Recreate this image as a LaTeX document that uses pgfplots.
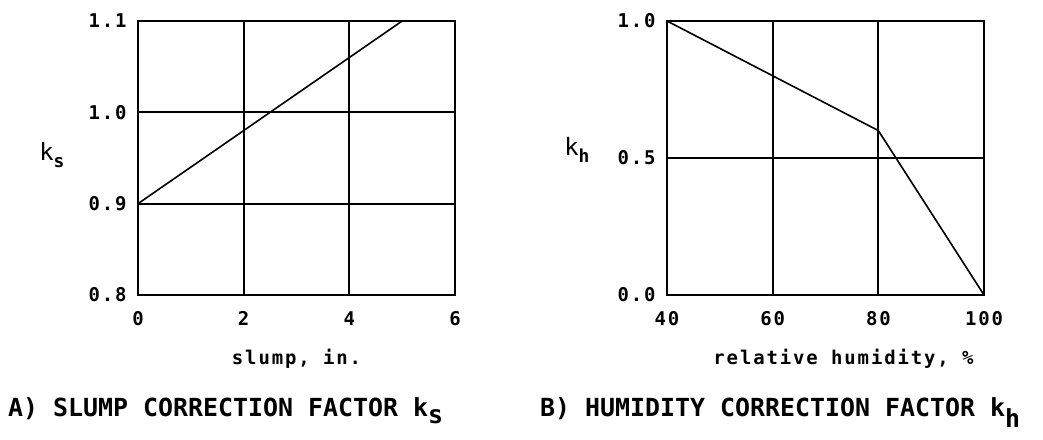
\documentclass[border=0pt]{standalone}
\usepackage{fontspec}
\setmainfont{DejaVu Sans Mono}
\newfontfamily\wideface[LetterSpace=10]{DejaVu Sans Mono}
\usepackage{pgfplots}
\pgfplotsset{compat=1.18}

\newcommand{\tickfont}{\wideface\fontsize{19}{19}\selectfont\bfseries}
\newcommand{\labfont}{\wideface\fontsize{19}{19}\selectfont\bfseries}
\newcommand{\capfont}{\fontsize{25}{25}\selectfont\bfseries}

\pgfplotsset{
  panel/.style={
    scale only axis,
    width=317bp, height=274bp,
    axis line style={line width=2.2bp},
    grid=major,
    major grid style={black, line width=1.8bp},
    tick style={draw=none},
    ticklabel style={font=\tickfont},
    /pgf/number format/assume math mode=true,
    xticklabel style={yshift=-13bp},
    yticklabel style={xshift=-8bp},
    xlabel style={font=\labfont, yshift=-16bp},
    ylabel style={font=\fontsize{24}{24}\selectfont, rotate=-90, anchor=east,
                  at={(rel axis cs:0,0.5)}},
  }
}

\begin{document}
\begin{tikzpicture}[x=1bp,y=1bp]
\useasboundingbox (0,0) rectangle (1043,440);

% slump correction factor
\begin{axis}[panel,
  at={(138bp,145bp)}, anchor=south west,
  xmin=0, xmax=6, ymin=0.8, ymax=1.1,
  xtick={0,2,4,6}, ytick={0.8,0.9,1.0,1.1},
  yticklabel style={/pgf/number format/.cd, fixed, fixed zerofill, precision=1},
  xlabel={slump, in.},
  ylabel={k\raisebox{-0.5ex}{\fontsize{18}{18}\selectfont\bfseries s}},
  ylabel style={xshift=-70bp, yshift=3bp},
]
\addplot[black, line width=1.6bp] coordinates {(0,0.9) (5,1.1)};
\end{axis}

% humidity correction factor
\begin{axis}[panel,
  at={(667bp,145bp)}, anchor=south west,
  xmin=40, xmax=100, ymin=0, ymax=1,
  xtick={40,60,80,100}, ytick={0,0.5,1},
  yticklabel style={/pgf/number format/.cd, fixed, fixed zerofill, precision=1},
  xlabel={relative humidity, \%},
  xlabel style={xshift=18bp},
  ylabel={k\raisebox{-0.6ex}{\fontsize{18}{18}\selectfont\bfseries h}},
  ylabel style={xshift=-74bp, yshift=8bp},
]
\addplot[black, line width=1.6bp] coordinates {(40,1.0) (60,0.8) (80,0.6) (100,0.0)};
\end{axis}

% panel captions
\node[anchor=base west, font=\capfont, inner sep=0pt] at (8,23)
  {A) SLUMP CORRECTION FACTOR k\raisebox{-0.5ex}{s}};
\node[anchor=base west, font=\capfont, inner sep=0pt] at (540,23)
  {B) HUMIDITY CORRECTION FACTOR k\raisebox{-0.8ex}{h}};
\end{tikzpicture}
\end{document}
